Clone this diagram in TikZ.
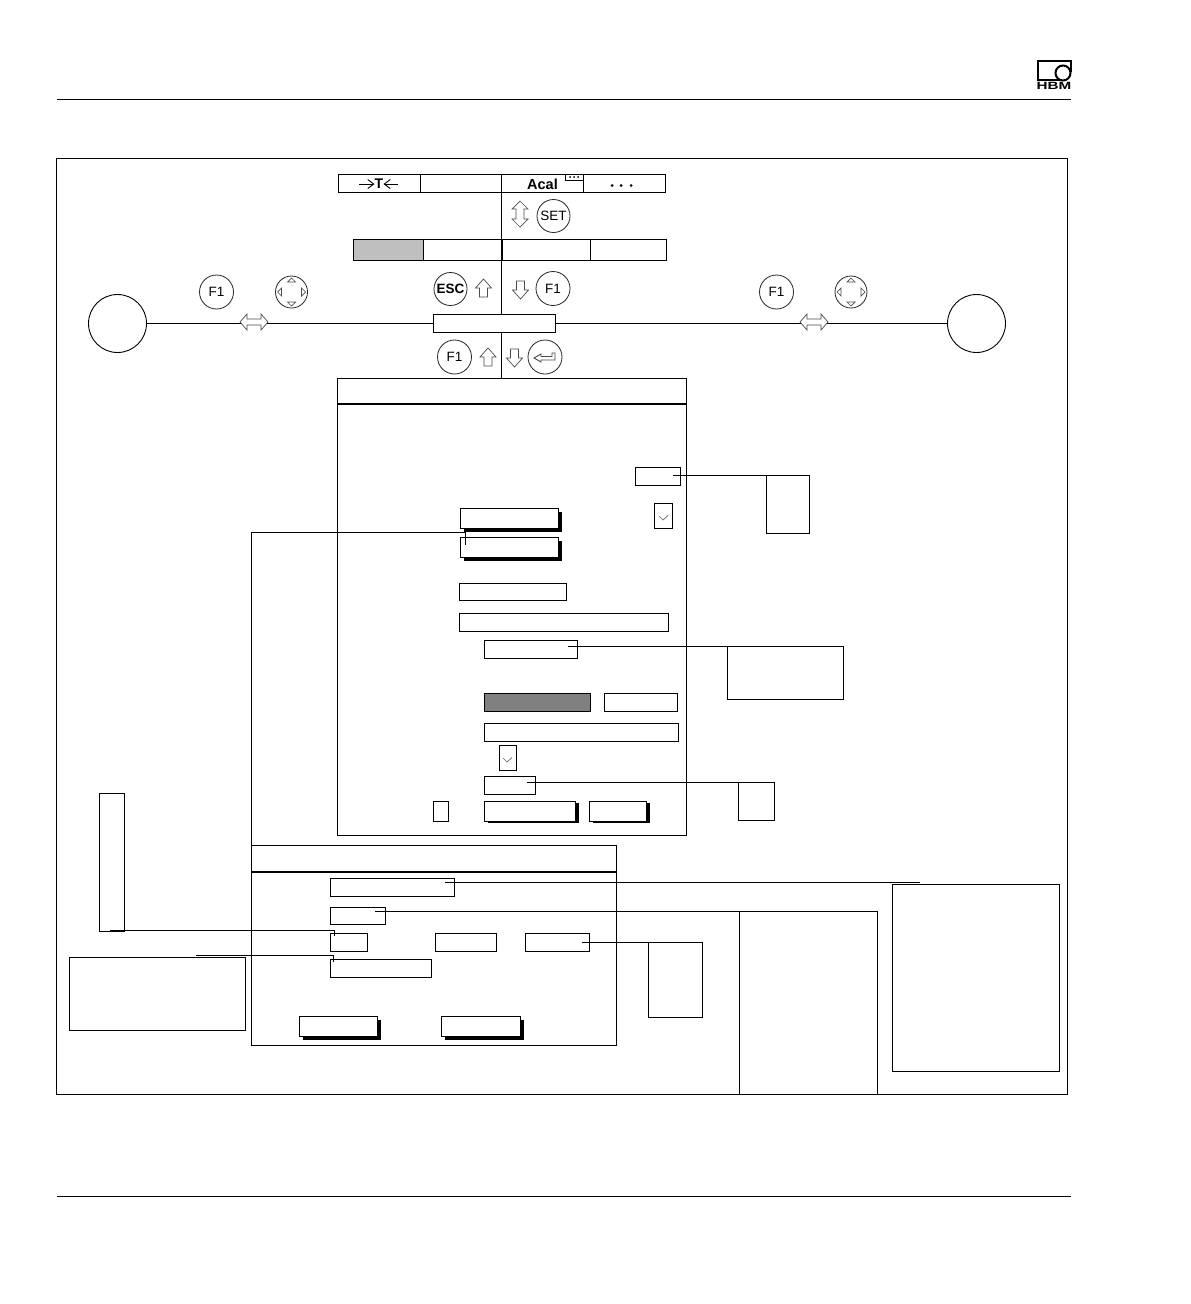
\documentclass[tikz,border=0pt]{standalone}
\usepackage{fontspec}
\setmainfont{Liberation Sans}
\usetikzlibrary{arrows.meta}
\newcommand{\bx}[6][]{% style, name, x1,y1,x2,y2
  \pgfmathsetmacro{\bxw}{#5-#3}\pgfmathsetmacro{\bxh}{#6-#4}
  \pgfmathsetmacro{\bxcx}{(#5+#3)/2}\pgfmathsetmacro{\bxcy}{(#6+#4)/2}
  \node[plainbox,minimum width=\bxw pt,minimum height=\bxh pt,#1] (#2) at (\bxcx,\bxcy) {};}
\tikzset{
  x=1pt,y=-1pt,
  every path/.style={line width=1.2pt,line join=miter},
  plainbox/.style={draw=black,fill=white,inner sep=0,outer sep=0,line width=1.2pt},
  shadowbtn/.style={preaction={draw=none,fill=black,transform canvas={xshift=3.5pt,yshift=-3.5pt}}},
  keyround/.style={circle,draw=black!85,fill=white,inner sep=0,outer sep=0,line width=.8pt,font=\fontsize{13.5}{13.5}\selectfont},
  bigcircle/.style={circle,draw=black,fill=white,inner sep=0,outer sep=0,minimum size=58pt,line width=.9pt},
  hollow/.style={draw=black!70,fill=white,line width=.7pt},
  link/.style={draw=black,line width=1.2pt},
  pics/uparrow/.style={code={\draw[hollow] (-8,0)--(0,-9)--(8,0)--(4,0)--(4,9)--(-4,9)--(-4,0)--cycle;}},
  pics/downarrow/.style={code={\draw[hollow] (-8,0)--(0,9)--(8,0)--(4,0)--(4,-9)--(-4,-9)--(-4,0)--cycle;}},
  pics/updown/.style={code={\draw[hollow] (0,-13)--(8,-5)--(4,-5)--(4,5)--(8,5)--(0,13)--(-8,5)--(-4,5)--(-4,-5)--(-8,-5)--cycle;}},
  pics/leftright/.style={code={\draw[hollow] (-14,0)--(-7,-8)--(-7,-3)--(7,-3)--(7,-8)--(14,0)--(7,8)--(7,3)--(-7,3)--(-7,8)--cycle;}},
  pics/padtris/.style={code={
    \draw[hollow] (-4,-10)--(4,-10)--(0,-14)--cycle;
    \draw[hollow] (-4,10)--(4,10)--(0,14)--cycle;
    \draw[hollow] (-10,-4)--(-10,4)--(-14,0)--cycle;
    \draw[hollow] (10,-4)--(10,4)--(14,0)--cycle;}},
  pics/enterglyph/.style={code={\draw[hollow,line width=.9pt] (-11,1)--(-4,-3)--(-4,-.5)--(7,-.5)--(7,-4)--(10,-4)--(10,3)--(-4,3)--(-4,5)--cycle;}},
}
\begin{document}
\begin{tikzpicture}
\useasboundingbox (0,0) rectangle (1191,1304);
% page rules
\coordinate (ruleTopL) at (57,99.5); \coordinate (ruleTopR) at (1071,99.5);
\coordinate (ruleBotL) at (57,1196.5); \coordinate (ruleBotR) at (1071,1196.5);
\draw[link] (ruleTopL)--(ruleTopR);
\draw[link] (ruleBotL)--(ruleBotR);
% logo
\draw[line width=2pt] (1063,80)--(1037.5,80)--(1037.5,61)--(1071,61)--(1071,72);
\node[circle,draw=black,fill=white,line width=2pt,minimum size=15pt,inner sep=0] (logoC) at (1063,73) {};
\node[inner sep=0,font=\fontsize{10.5}{10.5}\selectfont\bfseries,xscale=1.45] (logoT) at (1054,86) {HBM};
% frame
\bx{frame}{56.5}{158.5}{1067.5}{1094.5}
% backbone
\coordinate (bb1) at (501.5,192); \coordinate (bb2) at (501.5,239);
\draw[link] (bb1)--(bb2);
% toolbar
\bx{tbA}{338.5}{174.5}{420.5}{192.5}
\bx{tbB}{420.5}{174.5}{501.5}{192.5}
\bx{tbC}{501.5}{174.5}{583.5}{192.5}
\bx{tbD}{583.5}{174.5}{665.5}{192.5}
\draw[line width=1.8pt] (tbC.north west)--(tbC.south west);
\node[inner sep=0,font=\fontsize{14.5}{14.5}\selectfont\bfseries] (acal) at (542.5,184) {Acal};
\bx{tbDots}{565.5}{174.5}{583.5}{180.5}
\foreach \i/\xx in {1/570,2/574,3/578}{\fill (\xx,177) circle (1pt);}
\foreach \i/\xx in {1/612,2/621,3/631}{\fill (\xx,185.5) circle (1.5pt);}
\node[inner sep=0,font=\fontsize{14}{14}\selectfont\bfseries] (tT) at (379,184) {T};
\coordinate (tL) at (359,184); \coordinate (tR) at (398,184);
\draw[line width=.9pt,-{Straight Barb[length=6pt,width=9pt]}] (tL)--(374.5,184);
\draw[line width=.9pt,-{Straight Barb[length=6pt,width=9pt]}] (tR)--(383.5,184);
% set key
\pic at (520,214) {updown};
\node[keyround,minimum size=33pt] (kSET) at (553.5,216) {SET};
% second bar
\bx[fill=black!25]{sbA}{353.5}{239.5}{423.5}{260.5}
\bx{sbB}{423.5}{239.5}{502}{260.5}
\bx{sbC}{502}{239.5}{590.5}{260.5}
\bx{sbD}{590.5}{239.5}{666.5}{260.5}
\draw[line width=1.8pt] (sbC.north west)--(sbC.south west);
% main box and circles
\bx{mainbox}{433.5}{314.5}{555.5}{332.5}
\node[bigcircle] (cL) at (117.5,323.5) {};
\node[bigcircle] (cR) at (976.5,323.5) {};
\draw[link] (cL)--(mainbox);
\draw[link] (mainbox)--(cR);
\coordinate (bb3) at (501.5,260.5); \coordinate (bb4) at (501.5,314.5);
\draw[link] (bb3)--(bb4);
\coordinate (bb5) at (501.5,332.5); \coordinate (bb6) at (501.5,379);
\draw[link] (bb5)--(bb6);
\pic at (254,322) {leftright};
\pic at (814,322) {leftright};
\node[keyround,minimum size=34pt] (kF1a) at (216.5,292) {F1};
\node[keyround,minimum size=32pt] (kPadA) at (291.5,292) {}; \pic at (291.5,292) {padtris};
\node[keyround,minimum size=34pt] (kF1b) at (776.5,292) {F1};
\node[keyround,minimum size=32pt] (kPadB) at (851,292) {}; \pic at (851,292) {padtris};
\node[keyround,minimum size=33pt,font=\fontsize{13.5}{13.5}\selectfont\bfseries] (kESC) at (450.5,289) {ESC};
\pic at (483.5,288) {uparrow};
\pic at (520.5,290) {downarrow};
\node[keyround,minimum size=34pt] (kF1c) at (553,288.5) {F1};
\node[keyround,minimum size=34pt] (kF1d) at (454.5,357) {F1};
\pic at (488,357) {uparrow};
\pic at (514.5,358) {downarrow};
\node[keyround,minimum size=34pt] (kEnter) at (545,357) {};
\pic at (545,357) {enterglyph};
% side boxes first so that connectors sit on top
\bx{tall}{99.5}{793.5}{124.5}{931.5}
\draw[line width=2.2pt] (110,931)--(124,931);
\bx{noteL}{69.5}{957.5}{245.5}{1030.5}
% dialog 1
\bx{dlgA}{337.5}{378.5}{686.5}{835.5}
\coordinate (dlgArL) at (337.5,404); \coordinate (dlgArR) at (686.5,404);
\draw[line width=2.2pt] (dlgArL)--(dlgArR);
\bx{aSmall}{635.5}{467.5}{680.5}{485.5}
\bx{aNoteA}{766.5}{475.5}{809.5}{533.5}
\bx{aCheckA}{654.5}{503.5}{672.5}{528.5}
\draw[black!60,line width=.7pt] (659,516)--(663,520)--(668,515.5);
\bx[shadowbtn]{aBtnA}{460.5}{508.5}{558.5}{528.5}
\bx[shadowbtn]{aBtnB}{460.5}{537.5}{558.5}{557.5}
\bx{aF1}{459.5}{583.5}{566.5}{600.5}
\bx{aF2}{459.5}{613.5}{668.5}{631.5}
\bx{aF3}{484.5}{640.5}{577.5}{658.5}
\bx{aNoteB}{727.5}{646.5}{843.5}{699.5}
\bx[fill=black!50]{aDark}{484.5}{693.5}{590.5}{711.5}
\bx{aF4}{604.5}{693.5}{677.5}{711.5}
\bx{aF5}{484.5}{723.5}{678.5}{741.5}
\bx{aCheckB}{499.5}{745.5}{516.5}{770.5}
\draw[black!60,line width=.7pt] (503,758)--(507,762)--(512,757.5);
\bx{aF6}{484.5}{776.5}{535.5}{794.5}
\bx{aNoteC}{738.5}{782.5}{774.5}{820.5}
\bx{aTiny}{433.5}{801.5}{448.5}{821.5}
\bx[preaction={draw=none,fill=black,transform canvas={xshift=3pt,yshift=-1.5pt}}]{aBtnC}{484.5}{801.5}{575.5}{821.5}
\bx[preaction={draw=none,fill=black,transform canvas={xshift=3pt,yshift=-1.5pt}}]{aBtnD}{589.5}{801.5}{646.5}{821.5}
% dialog 2
\bx{dlgB}{251.5}{845.5}{616.5}{1045.5}
\coordinate (dlgBrL) at (251.5,872); \coordinate (dlgBrR) at (616.5,872);
\draw[line width=2.2pt] (dlgBrL)--(dlgBrR);
\bx{bF1}{330.5}{878.5}{454.5}{896.5}
\bx{bF2}{330.5}{907.5}{385.5}{924.5}
\bx{bF3}{330.5}{933.5}{367.5}{951.5}
\bx{bF4}{435.5}{933.5}{496.5}{951.5}
\bx{bF5}{525.5}{933.5}{589.5}{951.5}
\bx{bF6}{330.5}{959.5}{431.5}{977.5}
\bx[shadowbtn]{bBtnA}{299.5}{1016.5}{377.5}{1036.5}
\bx[shadowbtn]{bBtnB}{441.5}{1016.5}{520.5}{1036.5}
\bx{bNoteA}{648.5}{942.5}{702.5}{1017.5}
\bx{bNoteB}{892.5}{884.5}{1059.5}{1071.5}
% open-bottom box
\coordinate (oA) at (739.5,1094.5); \coordinate (oB) at (739.5,911.5);
\coordinate (oC) at (877.5,911.5); \coordinate (oD) at (877.5,1094.5);
\draw[link] (oA)--(oB);
\draw[link] (oC)--(oD);
% connectors
\coordinate (c1) at (673,475.5);
\draw[link] (c1)--(aNoteA.north west);
\coordinate (c2) at (568,646.5);
\draw[link] (c2)--(aNoteB.north west);
\coordinate (c3) at (527,782.5);
\draw[link] (c3)--(aNoteC.north west);
\coordinate (c4) at (465.5,545);
\draw[link] (c4)--(465.5,532.5)--(251.5,532.5)--(dlgB.north west);
\coordinate (c5) at (445,882.5); \coordinate (c5e) at (920,882.5);
\draw[link] (c5)--(c5e);
\coordinate (c6) at (375,911.5);
\draw[link] (c6)--(oC);
\coordinate (c7) at (124,930.5); \coordinate (c7e) at (334.5,936);
\draw[link] (c7)--(334.5,930.5)--(c7e);
\coordinate (c8) at (196,955.5); \coordinate (c8e) at (333.5,962);
\draw[link] (c8)--(333.5,955.5)--(c8e);
\coordinate (c9) at (582,942.5);
\draw[link] (c9)--(bNoteA.north west);
\end{tikzpicture}
\end{document}
